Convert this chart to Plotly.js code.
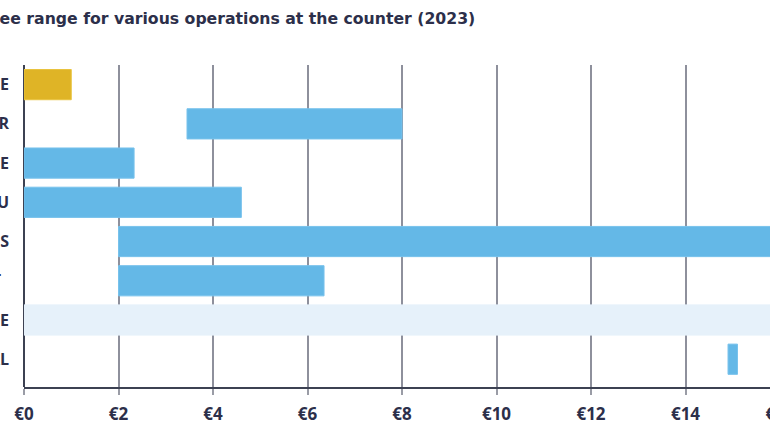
<!DOCTYPE html>
<html>
<head>
<meta charset="utf-8">
<script src="https://cdn.plot.ly/plotly-3.0.1.min.js"></script>
<style>
  html, body { margin: 0; padding: 0; overflow: hidden; background: #fff; width: 770px; height: 433px; }
  #chart { position: absolute; left: -100px; top: 0; width: 900px; height: 433px; }
</style>
</head>
<body>
<div id="chart"></div>
<script>
// Data (euro amounts)
const categories = ["ONLINE", "COUNTER", "MACHINE", "BUREAU", "BRANCHES", "POST\u2002", "OFFICE", "POSTAL"];
const rangeStart = [0, 3.45, 0, 0, 2, 2, 0, 14.9];
const rangeEnd   = [1.0, 8.0, 2.33, 4.6, 20, 6.35, 20, 15.1];
const barKinds   = ["highlight", "normal", "normal", "normal", "normal", "normal", "light", "normal"];
const xTickVals  = [0, 2, 4, 6, 8, 10, 12, 14, 16];
const xTickText  = ["€0", "€2", "€4", "€6", "€8", "€10", "€12", "€14", "€16"];
const titleText  = "Fee range for various operations at the counter (2023)";

const fillFor = {highlight: "#dfb426", normal: "#64b8e7", light: "#e6f1fa"};
const edgeFor = {highlight: "#e9c33f", normal: "#78c2ec", light: "#e6f1fa"};

const trace = {
  type: "bar",
  orientation: "h",
  y: categories.map((c, i) => i),
  base: rangeStart,
  x: rangeEnd.map((e, i) => e - rangeStart[i]),
  marker: {
    color: barKinds.map(k => fillFor[k]),
    line: {color: barKinds.map(k => edgeFor[k]), width: 1}
  },
  hoverinfo: "skip"
};

const navy = "#2c2f4a";
const layout = {
  width: 900, height: 433,
  margin: {l: 123.5, r: 19.5, t: 65, b: 46},
  paper_bgcolor: "#ffffff", plot_bgcolor: "#ffffff",
  showlegend: false,
  bargap: 0.23,
  title: {
    text: titleText,
    xref: "container", x: 89.5 / 900, xanchor: "left",
    yref: "container", y: 1 - 19 / 433, yanchor: "middle",
    font: {family: "DejaVu Sans, sans-serif", size: 15.7, color: navy, weight: 700}
  },
  xaxis: {
    range: [0, 16],
    tickvals: xTickVals, ticktext: xTickText,
    showgrid: true, gridcolor: "#8e909c", gridwidth: 2,
    zeroline: true, zerolinecolor: "#3c4152", zerolinewidth: 1.5,
    showline: true, linecolor: "#3c4152", linewidth: 1.5,
    ticks: "outside", ticklen: 6, tickwidth: 2, tickcolor: "#9a9ca6",
    ticklabelstandoff: 5,
    tickfont: {family: "Open Sans, sans-serif", size: 17, color: navy, weight: 700},
    fixedrange: true
  },
  yaxis: {
    range: [7.708, -0.5],
    tickvals: categories.map((c, i) => i), ticktext: categories,
    showgrid: false, zeroline: false, showline: false, ticks: "",
    ticklabelstandoff: 14,
    tickfont: {family: "Open Sans, sans-serif", size: 16, color: navy, weight: 700},
    fixedrange: true
  }
};

Plotly.newPlot("chart", [trace], layout, {displayModeBar: false, staticPlot: true});
</script>
</body>
</html>
